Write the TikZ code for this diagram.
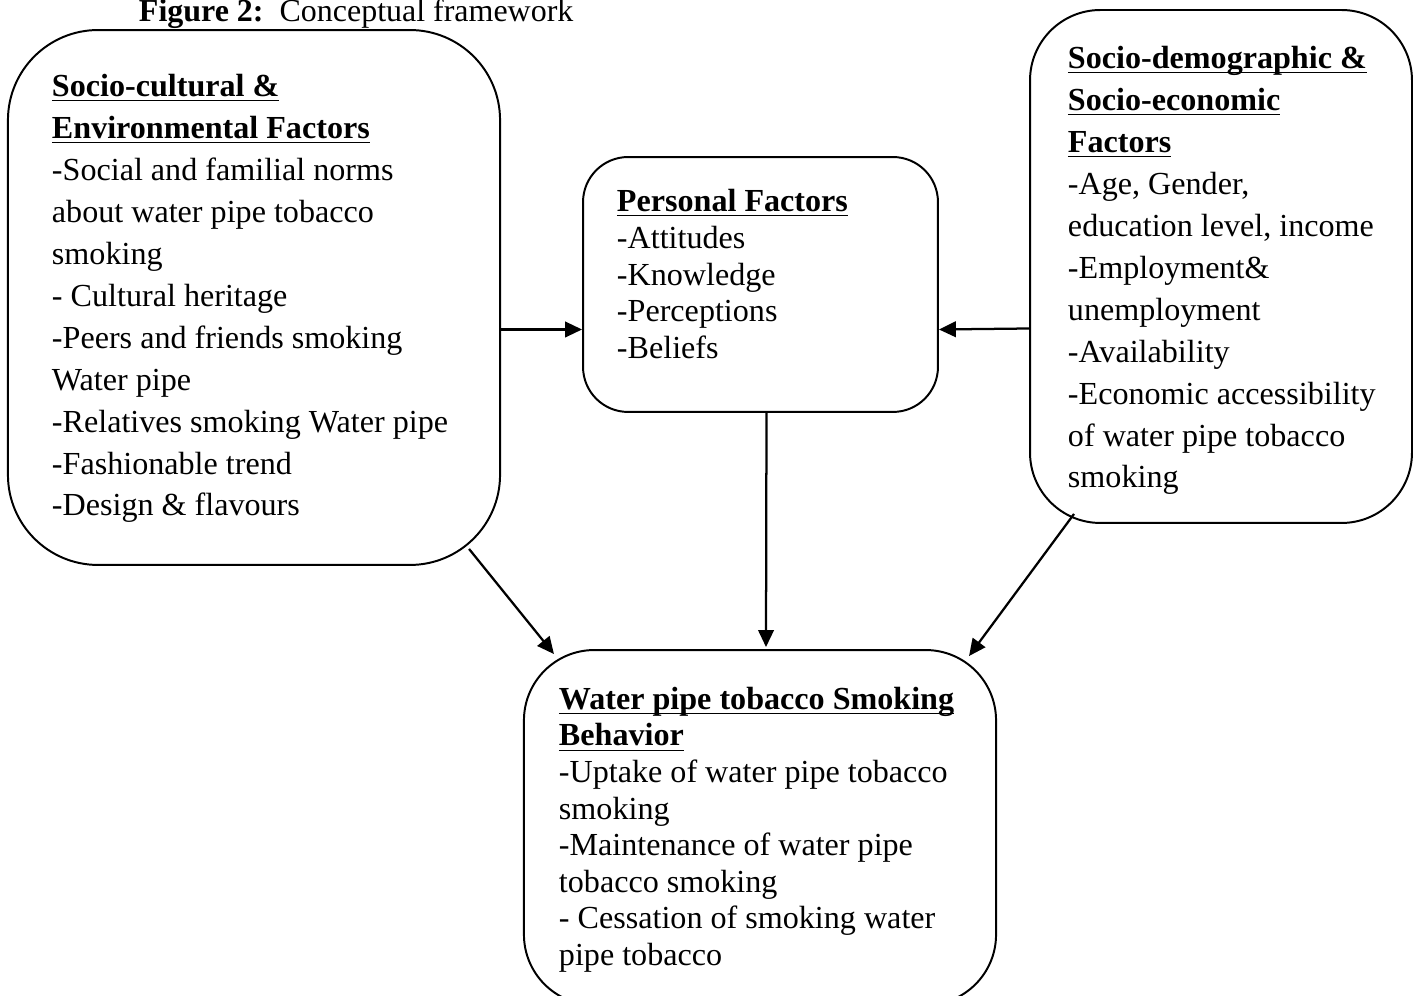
\documentclass[tikz,border=0pt]{standalone}
\usepackage{amsmath}
\usepackage{fontspec}
\setmainfont{Liberation Serif}
\usetikzlibrary{arrows.meta}

\newcommand{\hd}[1]{\underline{\smash[b]{\textbf{#1}}}}

\begin{document}
\begin{tikzpicture}[x=0.355pt, y=-0.355pt, line width=0.7pt]

\tikzstyle{box} = [draw, rectangle, inner sep=0pt]
\tikzstyle{txt} = [anchor=north west, inner sep=0pt, align=left, font=\fontsize{11.4}{14.9}\selectfont]
\tikzstyle{arr} = [line width=0.8pt, -{Triangle[length=6pt, width=5.5pt]}]

\useasboundingbox (0,0) rectangle (1419,996);
\clip (0,0) rectangle (1419,996);

\node[anchor=base west, inner sep=0pt, font=\fontsize{11.35}{13}\selectfont] (t) at (138,22) {\textbf{Figure 2:}\ \ Conceptual framework};

% boxes
\node[box, rounded corners=32pt, minimum width=174.7pt, minimum height=189.9pt] (sc) at (254,297.5) {};
\node[box, rounded corners=16pt, minimum width=126pt, minimum height=90.5pt] (pf) at (760.5,284.5) {};
\node[box, rounded corners=25pt, minimum width=135.6pt, minimum height=182.1pt] (sd) at (1221,266.5) {};
\node[box, rounded corners=25pt, minimum width=167.6pt, minimum height=126pt] (wb) at (760,827.5) {};

% texts
\node[txt] (sct) at (51,73) {\hd{Socio-cultural \&}\\
\hd{Environmental Factors}\\
-Social and familial norms\\
about water pipe tobacco\\
smoking\\
- Cultural heritage\\
-Peers and friends smoking\\
Water pipe\\
-Relatives smoking Water pipe\\
-Fashionable trend\\
-Design \& flavours};

\node[txt, font=\fontsize{11.4}{13.1}\selectfont] (pft) at (616,188) {\hd{Personal Factors}\\
-Attitudes\\
-Knowledge\\
-Perceptions\\
-Beliefs};

\node[txt] (sdt) at (1067,45) {\hd{Socio-demographic \&}\\
\hd{Socio-economic}\\
\hd{Factors}\\
-Age, Gender,\\
education level, income\\
-Employment\&\\
unemployment\\
-Availability\\
-Economic accessibility\\
of water pipe tobacco\\
smoking};

\node[txt, font=\fontsize{11.4}{13}\selectfont] (wbt) at (558,686) {\hd{Water pipe tobacco Smoking}\\
\hd{Behavior}\\
-Uptake of water pipe tobacco\\
smoking\\
-Maintenance of water pipe\\
tobacco smoking\\
- Cessation of smoking water\\
pipe tobacco};

% arrows
\draw[arr] ([shift={(0,32)}]sc.east) -- ([shift={(0,45)}]pf.west);
\draw[arr] ([shift={(0,62)}]sd.west) -- ([shift={(0,45)}]pf.east);
\draw[arr] ([shift={(6,0)}]pf.south) -- ([shift={(6,-2)}]wb.north);
\draw[arr] ([shift={(-32,-17)}]sc.south east) -- ([shift={(31,5)}]wb.north west);
\draw[arr] ([shift={(45,-10)}]sd.south west) -- ([shift={(-28,7)}]wb.north east);
\end{tikzpicture}
\end{document}
